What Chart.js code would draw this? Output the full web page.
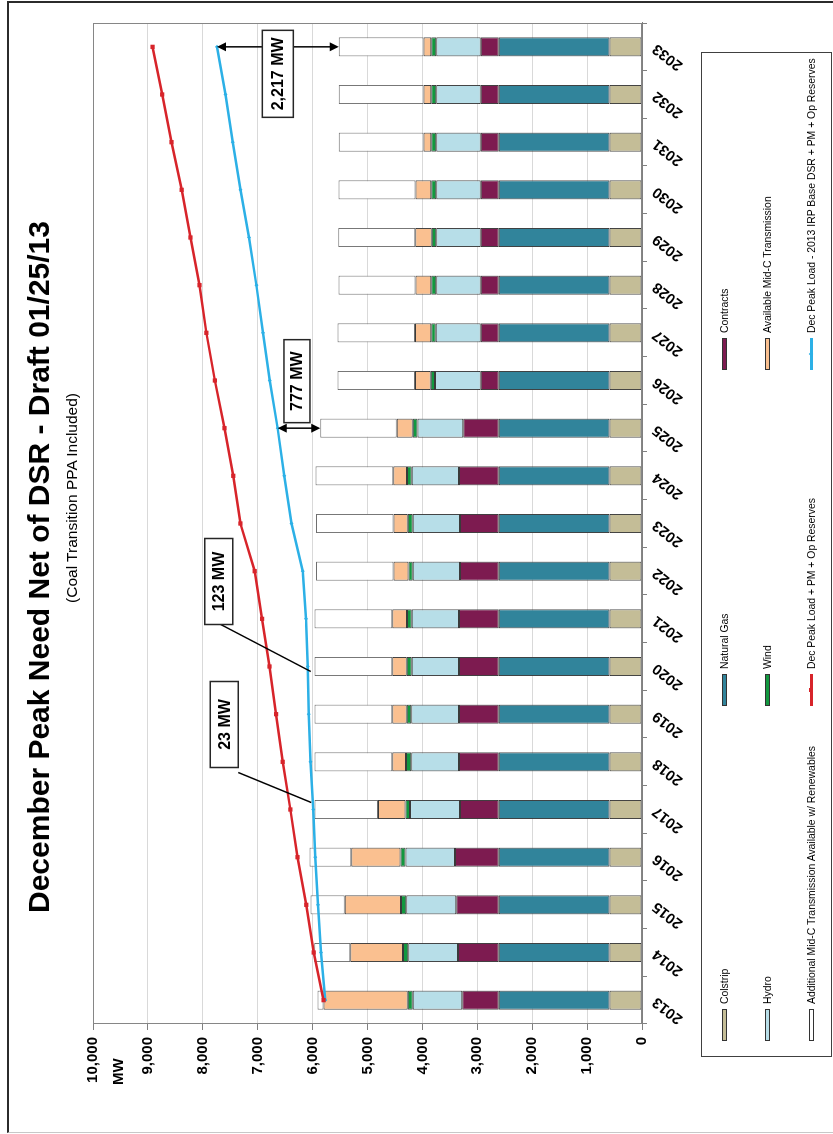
<!DOCTYPE html>
<html>
<head>
<meta charset="utf-8">
<script src="https://cdn.jsdelivr.net/npm/chart.js@4.4.1/dist/chart.umd.min.js"></script>
<style>
  html, body { margin: 0; padding: 0; background: #fff; overflow: hidden; }
  body { width: 833px; height: 1134px; position: relative; }
  /* The page is laid out landscape and turned a quarter turn counter-clockwise */
  #page {
    position: absolute; left: 0; top: 0; width: 1134px; height: 833px;
    transform-origin: 0 0; transform: translate(0px, 1134px) rotate(-90deg);
    font-family: 'Liberation Sans', Arial, Helvetica, sans-serif; background: #fff;
  }
  #frame {
    position: absolute; left: 1px; top: 7px; width: 1132px; height: 826px; box-sizing: border-box;
    border-top: 2px solid #2b2b2b; border-right: 2px solid #2b2b2b; border-left: 1px solid #c8c8c8;
  }
  #chart { position: absolute; left: 0; top: 0; }
  .title {
    position: absolute; left: 67px; top: 24px; width: 1000px; text-align: center;
    font-size: 30px; line-height: 30px; font-weight: bold; color: #000; white-space: nowrap;
  }
  .subtitle {
    position: absolute; left: 136px; top: 64px; width: 1000px; text-align: center;
    font-size: 15.5px; line-height: 16px; color: #000; white-space: nowrap;
  }
  .axis-title {
    position: absolute; left: 49px; top: 110px; font-size: 15px; line-height: 16px; font-weight: bold;
  }
  #legend {
    position: absolute; left: 77px; top: 701px; width: 1005px; height: 131px;
    border: 1px solid #404040; box-sizing: border-box; background: #fff;
  }
  .item {
    position: absolute; height: 14px; display: flex; align-items: center;
    font-size: 10.4px; color: #000; white-space: nowrap;
  }
  .sw { width: 32px; height: 5px; box-sizing: border-box; border: 1px solid #333; margin-right: 5px; }
  .ln { width: 32px; height: 14px; margin-right: 5px; position: relative; }
  .ln i { position: absolute; left: 0; right: 0; top: 6px; height: 2.5px; }
  .ln b { position: absolute; left: 14px; top: 5px; width: 4px; height: 4px; }
</style>
</head>
<body>
<div id="page">
  <div id="frame"></div>
  <canvas id="chart" width="1134" height="833"></canvas>
  <div class="title">December Peak Need Net of DSR - Draft 01/25/13</div>
  <div class="subtitle">(Coal Transition PPA Included)</div>
  <div class="axis-title">MW</div>
  <div id="legend"></div>
</div>
<script>
// ---- Data (MW) ----
const years = ['2013','2014','2015','2016','2017','2018','2019','2020','2021','2022','2023',
               '2024','2025','2026','2027','2028','2029','2030','2031','2032','2033'];

const colstrip       = [590,590,590,590,590,590,590,590,590,590,590,590,590,590,590,590,590,590,590,590,590];
const naturalGas     = [2020,2020,2020,2020,2020,2020,2020,2020,2020,2020,2020,2020,2020,2020,2020,2020,2020,2020,2020,2020,2020];
const contracts      = [665,740,775,795,705,725,725,725,725,705,705,725,645,325,325,325,325,325,325,325,325];
const hydro          = [900,910,910,905,910,870,870,860,860,860,860,860,835,835,820,815,815,815,815,815,815];
const wind           = [90,95,95,90,85,95,80,90,85,80,90,85,85,80,85,90,80,90,90,90,90];
const availMidC      = [1535,960,1025,895,500,250,265,265,270,270,260,250,290,285,295,285,300,285,140,140,140];
const additionalMidC = [110,655,625,760,1155,1415,1415,1415,1415,1415,1415,1415,1395,1410,1410,1405,1405,1405,1545,1545,1545];

const peakLoad    = [5800,5980,6115,6275,6405,6545,6665,6785,6920,7055,7315,7445,7605,7780,7935,8060,8225,8385,8570,8740,8915];
const netPeakLoad = [5770,5845,5900,5950,5988,6040,6070,6088,6120,6180,6385,6515,6637,6780,6905,7024,7158,7315,7455,7587,7742];

const valueTicks = [0,1000,2000,3000,4000,5000,6000,7000,8000,9000,10000];

// Shortfall call-outs: year and the label text
const gapYears  = ['2017','2020','2025','2033'];
const gapLabels = ['23 MW','123 MW','777 MW','2,217 MW'];

// ---- Series styling ----
const barSeries = [
  { label: 'Colstrip', data: colstrip, color: '#c4bd97', edge: '#3a3a3a' },
  { label: 'Natural Gas', data: naturalGas, color: '#31849b', edge: '#3a3a3a' },
  { label: 'Contracts', data: contracts, color: '#7d1b50', edge: '#3a3a3a' },
  { label: 'Hydro', data: hydro, color: '#b7dee8', edge: '#3a3a3a' },
  { label: 'Wind', data: wind, color: '#12983f', edge: '#3a3a3a' },
  { label: 'Available Mid-C Transmission', data: availMidC, color: '#fac090', edge: '#3a3a3a' },
  { label: 'Additional Mid-C Transmission Available w/ Renewables', data: additionalMidC, color: '#ffffff', edge: '#6f6f6f' }
];
const lineSeries = [
  { label: 'Dec Peak Load + PM + Op Reserves', data: peakLoad, color: '#d7242a', point: 'rect', r: 3 },
  { label: 'Dec Peak Load - 2013 IRP Base DSR + PM + Op Reserves', data: netPeakLoad, color: '#2cb0e6', point: 'rectRot', r: 2 }
];

const fmt = v => String(v).replace(/\B(?=(\d{3})+(?!\d))/g, ',');

const datasets = [];
barSeries.forEach(s => datasets.push({
  type: 'bar', label: s.label, data: s.data, backgroundColor: s.color, borderColor: s.edge,
  borderWidth: 1, borderSkipped: false, stack: 'supply', order: 1,
  barPercentage: 0.4, categoryPercentage: 1.0
}));
lineSeries.forEach((s, i) => datasets.push({
  type: 'line', label: s.label, data: s.data, borderColor: s.color, backgroundColor: s.color,
  borderWidth: 2.5, pointStyle: s.point, pointRadius: s.r, pointBorderWidth: 0,
  pointBackgroundColor: s.color, tension: 0, fill: false, stack: 'load' + i, order: 0
}));

// Plot-area frame and the shortfall call-outs
const frameAndNotes = {
  id: 'frameAndNotes',
  afterDatasetsDraw(chart) {
    const { ctx, chartArea: a, scales: { x, y } } = chart;
    ctx.save();
    ctx.strokeStyle = '#868686';
    ctx.lineWidth = 1;
    ctx.strokeRect(a.left + 0.5, a.top + 0.5, a.right - a.left - 1, a.bottom - a.top - 1);

    const totalAt = i => barSeries.reduce((sum, s) => sum + s.data[i], 0);
    const box = (cx, cy, w, h, text) => {
      ctx.fillStyle = '#fff';
      ctx.fillRect(cx - w / 2, cy - h / 2, w, h);
      ctx.strokeStyle = '#262626';
      ctx.lineWidth = 1.5;
      ctx.strokeRect(cx - w / 2, cy - h / 2, w, h);
      ctx.fillStyle = '#000';
      ctx.font = "bold 16px 'Liberation Sans', Arial, sans-serif";
      ctx.textAlign = 'center';
      ctx.textBaseline = 'middle';
      ctx.fillText(text, cx, cy + 1);
    };
    const head = (px, py, dir) => {
      ctx.beginPath();
      ctx.moveTo(px, py);
      ctx.lineTo(px - 4.5, py - dir * 9);
      ctx.lineTo(px + 4.5, py - dir * 9);
      ctx.closePath();
      ctx.fill();
    };

    gapYears.forEach((yr, k) => {
      const i = years.indexOf(yr);
      const px = x.getPixelForValue(i);
      const yLoad = y.getPixelForValue(netPeakLoad[i]);
      const yTop = y.getPixelForValue(totalAt(i));
      ctx.strokeStyle = '#000';
      ctx.fillStyle = '#000';
      ctx.lineWidth = 1.5;
      if (yr === '2025' || yr === '2033') {
        // double-headed arrow spanning the gap
        ctx.beginPath();
        ctx.moveTo(px, yLoad + 2);
        ctx.lineTo(px, yTop - 2);
        ctx.stroke();
        head(px, yLoad, -1);
        head(px, yTop, 1);
        const mid = (yLoad + yTop) / 2;
        if (yr === '2033') box(px - 27, mid, 87, 31, gapLabels[k]);
        else box(px + 47, mid - 2, 83, 26, gapLabels[k]);
      } else {
        // leader line from the call-out box to the gap
        const bx = px + 85, by = yLoad - 89;
        ctx.beginPath();
        if (yr === '2020') {
          ctx.moveTo(bx - 43, by + 2);
          ctx.lineTo(px - 5, yLoad + 3);
        } else {
          ctx.moveTo(bx - 48, by + 14);
          ctx.lineTo(px + 7, yLoad - 2);
        }
        ctx.stroke();
        box(bx, by, 86, 28, gapLabels[k]);
      }
    });
    ctx.restore();
  }
};

Chart.defaults.font.family = "'Liberation Sans', Arial, Helvetica, sans-serif";

new Chart(document.getElementById('chart'), {
  type: 'bar',
  data: { labels: years, datasets },
  options: {
    responsive: false,
    animation: false,
    devicePixelRatio: 1,
    layout: { padding: { top: 93, right: 23, bottom: 0, left: 0 } },
    plugins: { legend: { display: false }, tooltip: { enabled: false }, title: { display: false } },
    scales: {
      x: {
        stacked: true,
        offset: true,
        grid: { display: true, drawOnChartArea: false, offset: true, tickLength: 5, color: '#808080' },
        border: { color: '#808080' },
        ticks: { minRotation: 52, maxRotation: 52, autoSkip: false, color: '#000', padding: 2,
                 font: { size: 15, weight: 'bold' } },
        afterFit: s => { s.height = 191; }
      },
      y: {
        stacked: true,
        min: 0, max: 10000,
        afterBuildTicks: s => { s.ticks = valueTicks.map(v => ({ value: v })); },
        ticks: { color: '#000', padding: 7, font: { size: 15, weight: 'bold' }, callback: v => fmt(v) },
        grid: { color: '#d9d9d9', tickColor: '#808080', tickLength: 6 },
        border: { color: '#808080' },
        afterFit: s => { s.width = 110; }
      }
    }
  },
  plugins: [frameAndNotes]
});

// Legend: three columns, filled row by row in series order
const legend = document.getElementById('legend');
const cols = [92, 427, 763];
const rows = [723, 766.5, 810];
const entries = barSeries.map(s => ({ kind: 'bar', ...s })).concat(lineSeries.map(s => ({ kind: 'line', ...s })));
entries.forEach((e, n) => {
  const item = document.createElement('div');
  item.className = 'item';
  item.style.left = (cols[n % 3] - 77) + 'px';
  item.style.top = (rows[Math.floor(n / 3)] - 701 - 7) + 'px';
  let mark;
  if (e.kind === 'bar') {
    mark = document.createElement('span');
    mark.className = 'sw';
    mark.style.background = e.color;
  } else {
    mark = document.createElement('span');
    mark.className = 'ln';
    mark.innerHTML = '<i></i><b></b>';
    mark.firstChild.style.background = e.color;
    mark.lastChild.style.background = e.color;
    if (e.point === 'rectRot') mark.lastChild.style.transform = 'rotate(45deg) scale(0.8)';
  }
  const txt = document.createElement('span');
  txt.textContent = e.label;
  item.appendChild(mark);
  item.appendChild(txt);
  legend.appendChild(item);
});
</script>
</body>
</html>
